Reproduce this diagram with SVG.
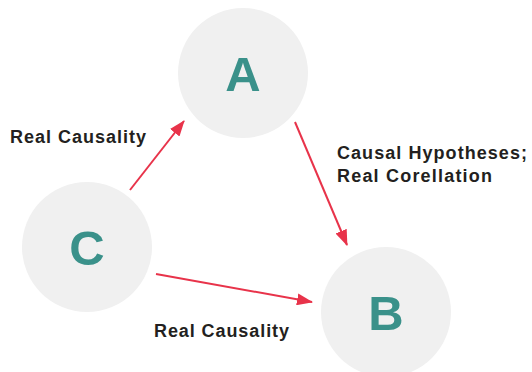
<svg xmlns="http://www.w3.org/2000/svg" width="532" height="372" viewBox="0 0 532 372">
<style>
.node{fill:#f0f0f0}
.letter{font-family:"Liberation Sans",Arial,sans-serif;font-weight:bold;font-size:49px;fill:#3a918a;text-anchor:middle}
.lbl{font-family:"Liberation Sans",Arial,sans-serif;font-weight:bold;font-size:18px;fill:#231f20}
.edge{stroke:#e8334a;stroke-width:2;fill:none;marker-end:url(#ah)}
</style>
<defs>
<marker id="ah" markerWidth="16" markerHeight="12" refX="15" refY="6" orient="auto" markerUnits="userSpaceOnUse">
<path d="M0,0 L16,6 L0,12 Z" fill="#e8334a"/>
</marker>
</defs>
<rect width="532" height="372" fill="#ffffff"/>
<g id="node-A"><circle class="node" cx="243" cy="73" r="65"/><text class="letter" x="243" y="91">A</text></g>
<g id="node-C"><circle class="node" cx="87" cy="247" r="65"/><text class="letter" x="87" y="265">C</text></g>
<g id="node-B"><circle class="node" cx="386" cy="312" r="65"/><text class="letter" x="386" y="330">B</text></g>
<g id="connectors">
<line class="edge" x1="130" y1="190" x2="184" y2="121"/>
<line class="edge" x1="295" y1="122" x2="347" y2="245"/>
<line class="edge" x1="156" y1="274" x2="312" y2="302"/>
</g>
<g id="labels">
<text class="lbl" x="10" y="143" textLength="136" lengthAdjust="spacing">Real Causality</text>
<text class="lbl" x="337" y="159" textLength="190" lengthAdjust="spacing">Causal Hypotheses;</text>
<text class="lbl" x="337" y="182" textLength="155" lengthAdjust="spacing">Real Corellation</text>
<text class="lbl" x="154" y="337" textLength="135" lengthAdjust="spacing">Real Causality</text>
</g>
</svg>
